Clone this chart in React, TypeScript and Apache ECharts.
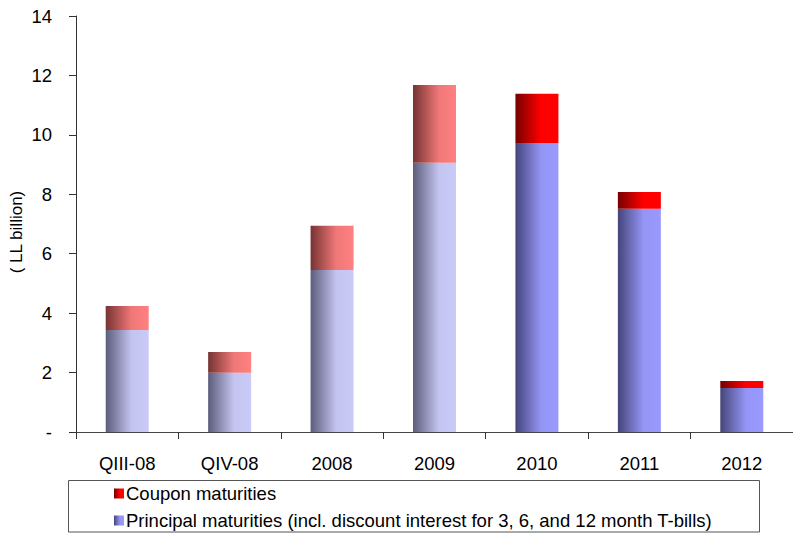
import React, { useEffect, useRef } from "react";
import * as echarts from "echarts";

const categories = ["QIII-08", "QIV-08", "2008", "2009", "2010", "2011", "2012"];
const principal = [3.43, 1.99, 5.45, 9.06, 9.73, 7.51, 1.48];
const coupon = [0.81, 0.7, 1.49, 2.62, 1.65, 0.57, 0.24];
const paleCount = 4; // first bars drawn in a paler shade
const yTickLabels = ["-", "2", "4", "6", "8", "10", "12", "14"];
const seriesNames = [
  "Coupon maturities",
  "Principal maturities (incl. discount interest for 3, 6, and 12 month T-bills)",
];
const yAxisTitle = "( LL billion)";

const FONT = "'Liberation Sans', Arial, Helvetica, sans-serif";

const grad = (c0: string, c1: string, c2: string) =>
  new echarts.graphic.LinearGradient(0, 0, 1, 0, [
    { offset: 0, color: c0 },
    { offset: 0.6, color: c1 },
    { offset: 1, color: c2 },
  ]);

export default function App() {
  const ref = useRef<HTMLDivElement>(null);
  useEffect(() => {
    document.body.style.margin = "0";
    if (!ref.current) return;
    const chart = echarts.init(ref.current, null, { renderer: "svg" });

    const principalPale = () => grad("#5c5c7c", "#c4c4f0", "#cacaf8");
    const principalDeep = () => grad("#45457a", "#9595f6", "#9999ff");
    const couponPale = () => grad("#773333", "#f07878", "#ff8080");
    const couponDeep = () => grad("#770000", "#ff0000", "#ff0000");

    const legendBase = {
      orient: "horizontal",
      left: 114,
      itemWidth: 10,
      itemHeight: 10,
      itemGap: 9,
      icon: "rect",
      padding: 0,
      textStyle: { fontSize: 18.5, lineHeight: 18, color: "#000", fontFamily: FONT, padding: [0, 0, 0, -3] },
    };

    chart.setOption({
      animation: false,
      textStyle: { fontFamily: FONT },
      grid: { left: 76, top: 16, width: 728, height: 416 },
      legend: [
        { ...legendBase, top: 484, data: [seriesNames[0]] },
        { ...legendBase, top: 511, data: [seriesNames[1]] },
      ],
      graphic: [
        {
          type: "rect",
          shape: { x: 68.5, y: 480.5, width: 691, height: 51.5 },
          style: { fill: "none", stroke: "#555", lineWidth: 1 },
          silent: true,
        },
        {
          type: "text",
          x: 16,
          y: 232,
          rotation: Math.PI / 2,
          style: {
            text: yAxisTitle,
            fontSize: 17,
            fontFamily: FONT,
            fill: "#000",
            align: "center",
            verticalAlign: "middle",
          },
        },
      ],
      xAxis: {
        type: "category",
        data: categories,
        axisLine: { lineStyle: { color: "#444", width: 1 } },
        axisTick: { show: true, length: 7, lineStyle: { color: "#333" } },
        axisLabel: { fontSize: 18.5, color: "#000", margin: 22, fontFamily: FONT },
      },
      yAxis: {
        type: "value",
        min: 0,
        max: 14,
        interval: 2,
        axisLine: { show: true, lineStyle: { color: "#333", width: 1 } },
        axisTick: { show: true, length: 7, lineStyle: { color: "#333" } },
        axisLabel: {
          fontSize: 18.5,
          color: "#000",
          margin: 24,
          fontFamily: FONT,
          formatter: (v: number) => yTickLabels[Math.round(v / 2)] ?? String(v),
        },
        splitLine: {
          lineStyle: {
            color: "#666",
            width: 1.2,
            shadowColor: "#bbb",
            shadowOffsetY: 1.2,
            shadowBlur: 0,
          },
        },
      },
      series: [
        {
          name: seriesNames[1],
          type: "bar",
          stack: "total",
          barWidth: 43,
          itemStyle: { color: principalDeep() },
          data: principal.map((v, i) => ({
            value: v,
            itemStyle: { color: i < paleCount ? principalPale() : principalDeep() },
          })),
        },
        {
          name: seriesNames[0],
          type: "bar",
          stack: "total",
          barWidth: 43,
          itemStyle: { color: couponDeep() },
          data: coupon.map((v, i) => ({
            value: v,
            itemStyle: { color: i < paleCount ? couponPale() : couponDeep() },
          })),
        },
      ],
    });
    return () => chart.dispose();
  }, []);
  return (
    <div
      ref={ref}
      style={{ width: 793, height: 533, position: "absolute", left: 0, top: 0, background: "#fff" }}
    />
  );
}
